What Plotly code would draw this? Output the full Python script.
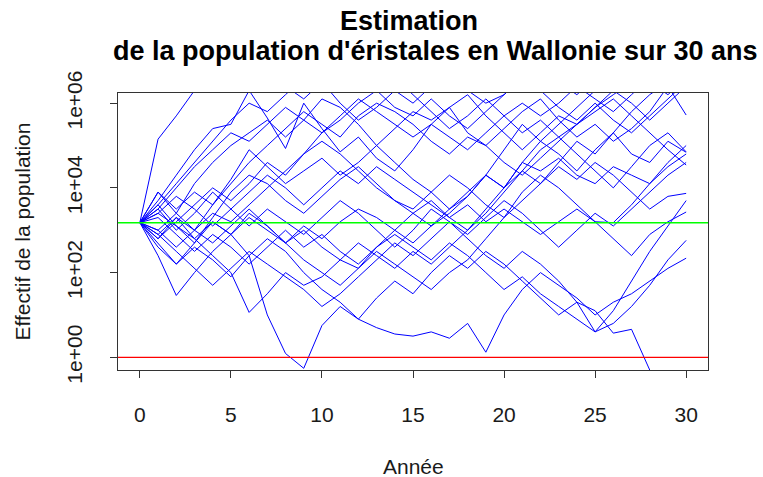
import plotly.graph_objects as go

# Years of the simulation
annees = list(range(0, 31))

# Initial population and extinction threshold
effectif_initial = 1500
seuil_extinction = 1

# Simulated trajectories, stored as log10 of the population size for each year
traj_log10 = [
    [3.18, 5.15, 5.7, 6.3, 6.7, 6.5, 6.9, 6.6, 6.4, 6.1, 6.5, 6.0, 5.6, 5.9, 6.3, 6.0, 6.4, 6.7, 6.3, 6.0, 6.2, 6.6, 6.9, 6.5, 6.2, 6.6, 6.8, 6.4, 6.5, 6.2, 6.6],
    [3.18, 3.7, 4.3, 4.9, 5.4, 5.5, 6.3, 5.65, 4.93, 6.0, 5.4, 4.85, 5.2, 4.7, 4.4, 4.9, 5.5, 5.9, 5.3, 5.0, 5.4, 5.8, 6.1, 5.6, 5.2, 5.5, 5.1, 5.4, 5.8, 6.4, 5.72],
    [3.18, 3.9, 3.4, 4.1, 4.6, 5.0, 5.3, 5.6, 5.2, 5.6, 6.1, 5.9, 5.5, 5.0, 4.6, 4.2, 3.9, 3.5, 3.8, 4.3, 4.0, 4.6, 5.1, 4.8, 4.4, 4.9, 5.3, 4.8, 4.6, 5.1, 4.84],
    [3.18, 2.8, 3.3, 3.0, 3.6, 4.2, 4.9, 4.5, 4.1, 4.4, 4.7, 4.3, 4.6, 5.0, 5.4, 5.8, 5.6, 5.9, 6.2, 5.7, 5.3, 4.9, 5.3, 5.7, 5.5, 5.8, 6.1, 5.7, 5.3, 4.9, 4.54],
    [3.18, 2.6, 2.2, 2.7, 3.3, 3.9, 4.3, 4.1, 3.7, 3.4, 3.8, 4.2, 4.5, 4.1, 3.7, 3.5, 3.9, 4.3, 4.0, 3.6, 3.3, 3.7, 4.1, 4.5, 4.2, 4.6, 4.3, 3.9, 3.5, 3.8, 3.87],
    [3.18, 3.6, 3.1, 2.7, 3.2, 2.9, 2.4, 2.8, 2.5, 2.0, 1.6, 1.3, 0.9, 0.7, 0.55, 0.5, 0.6, 0.45, 0.8, 0.12, 1.0, 1.6, 2.0, 1.7, 1.4, 1.0, 1.3, 1.5, 1.8, 2.1, 2.34],
    [3.18, 2.9, 3.3, 2.8, 2.4, 2.0, 1.06, 1.5, 2.0, 1.7, 1.9, 2.3, 2.1, 2.6, 2.9, 2.6, 2.3, 2.7, 2.4, 2.0, 1.6, 1.9, 1.5, 1.2, 0.9, 0.6, 0.8, 1.2, 1.7, 2.3, 2.76],
    [3.18, 2.4, 1.46, 2.0, 2.5, 2.9, 3.4, 3.1, 2.7, 2.3, 2.0, 1.7, 2.1, 2.5, 2.2, 1.9, 1.6, 2.0, 2.3, 2.8, 3.3, 3.9, 4.3, 4.0, 3.6, 3.2, 2.8, 2.4, 2.9, 3.2, 3.43],
    [3.18, 3.4, 3.8, 3.5, 3.1, 3.5, 3.9, 4.3, 4.0, 3.6, 4.0, 4.4, 4.1, 4.5, 4.2, 3.9, 3.6, 3.3, 3.0, 3.4, 3.9, 4.4, 4.9, 5.2, 4.8, 4.4, 4.0, 4.5, 5.0, 5.3, 4.85],
    [3.18, 3.0, 3.4, 3.0, 3.4, 3.2, 3.6, 4.0, 4.4, 4.8, 5.1, 4.8, 4.4, 4.0, 3.7, 3.4, 3.7, 3.3, 3.6, 3.2, 3.5, 3.2, 2.9, 3.2, 3.5, 3.2, 3.18, 3.6, 4.1, 4.5, 4.80],
    [3.18, 3.6, 4.1, 4.6, 5.1, 5.6, 6.0, 5.8, 6.2, 6.6, 6.9, 6.5, 6.8, 7.0, 6.6, 6.2, 5.8, 5.4, 5.7, 6.1, 5.7, 5.3, 5.6, 5.2, 5.5, 5.9, 6.3, 6.0, 5.6, 6.0, 6.4],
    [3.18, 3.4, 3.1, 2.8, 3.2, 2.9, 3.3, 3.0, 2.7, 3.1, 2.8, 3.2, 3.5, 3.3, 3.0, 3.4, 3.1, 3.4, 3.8, 4.3, 4.9, 5.5, 5.1, 5.5, 5.9, 6.3, 6.7, 6.4, 6.8, 7.1, 7.4],
    [3.18, 2.7, 2.2, 2.6, 2.3, 1.9, 2.4, 1.0, 0.09, -0.26, 0.75, 1.2, 0.9, 1.4, 1.8, 1.5, 2.0, 2.4, 2.1, 2.5, 2.2, 1.8, 1.4, 1.0, 1.3, 1.1, 0.57, 0.66, -0.3, -0.9, -1.5],
    [3.18, 3.5, 3.0, 3.4, 3.9, 3.5, 3.1, 3.5, 3.2, 2.9, 3.3, 3.7, 3.4, 3.0, 2.6, 3.0, 3.5, 3.2, 2.8, 2.4, 2.1, 2.5, 2.2, 1.8, 1.3, 0.6, 1.1, 1.8, 2.5, 3.1, 3.7],
    [3.18, 3.9, 3.5, 3.9, 3.6, 4.1, 4.6, 5.0, 5.4, 5.8, 5.5, 5.2, 5.7, 6.0, 5.8, 5.5, 5.1, 4.8, 5.2, 5.0, 4.6, 4.3, 4.7, 5.1, 5.5, 5.9, 6.2, 6.5, 6.8, 6.4, 6.9],
    [3.18, 2.8, 3.2, 3.6, 4.0, 3.7, 4.1, 4.6, 4.3, 4.8, 5.3, 5.6, 6.0, 6.3, 5.9, 5.7, 6.1, 5.7, 5.4, 5.8, 6.2, 6.6, 6.3, 5.9, 5.6, 6.0, 5.6, 5.3, 5.7, 6.1, 6.5],
    [3.18, 3.3, 2.9, 2.5, 2.9, 2.6, 2.2, 2.6, 3.0, 2.6, 2.9, 2.5, 2.2, 2.6, 3.0, 2.7, 3.1, 3.5, 3.9, 4.3, 4.0, 4.4, 4.1, 4.6, 5.1, 4.8, 5.3, 5.8, 6.2, 6.5, 6.9],
    [3.18, 3.0, 2.6, 3.0, 2.7, 3.1, 3.5, 3.1, 2.7, 3.0, 2.6, 2.3, 2.7, 2.4, 2.1, 2.5, 2.2, 2.6, 3.0, 3.5, 4.0, 4.6, 4.4, 4.7, 4.3, 4.1, 4.5, 4.3, 4.1, 4.6, 5.0],
    [3.18, 2.9, 2.5, 2.1, 1.7, 2.1, 2.5, 2.2, 1.9, 1.6, 1.2, 1.5, 1.9, 2.3, 2.7, 2.4, 2.8, 3.2, 2.9, 3.3, 3.7, 3.4, 3.0, 2.6, 3.0, 3.4, 3.1, 3.5, 3.9, 4.3, 4.6],
    [3.18, 3.5, 4.0, 4.5, 4.9, 5.3, 5.1, 5.5, 5.9, 5.6, 5.3, 5.7, 6.1, 5.8, 5.5, 5.2, 5.5, 5.2, 4.9, 5.3, 5.7, 6.0, 5.7, 6.0, 6.4, 6.1, 5.8, 6.2, 6.6, 6.3, 6.7],
]

# Axis ticks
x_ticks = [0, 5, 10, 15, 20, 25, 30]
y_ticks = [1, 1e2, 1e4, 1e6]
y_ticktext = ["1e+00", "1e+02", "1e+04", "1e+06"]

police = "Liberation Sans, Arial, sans-serif"

fig = go.Figure()

for traj in traj_log10:
    fig.add_trace(go.Scatter(
        x=annees, y=[10 ** v for v in traj], mode="lines",
        line=dict(color="#0000FF", width=1), hoverinfo="skip", showlegend=False,
    ))

# Reference levels: initial size (green) and extinction (red)
for niveau, couleur in [(effectif_initial, "#00FF00"), (seuil_extinction, "#FF0000")]:
    fig.add_trace(go.Scatter(
        x=[-5, 35], y=[niveau, niveau], mode="lines",
        line=dict(color=couleur, width=1.3), hoverinfo="skip", showlegend=False,
    ))

fig.update_layout(
    width=763, height=477,
    margin=dict(l=118, r=55, t=93, b=107),
    paper_bgcolor="white", plot_bgcolor="white",
    font=dict(family=police, size=21, color="#1a1a1a"),
    showlegend=False,
)

fig.update_xaxes(
    range=[-1.2, 31.2], tickmode="array", tickvals=x_ticks,
    ticks="outside", ticklen=7, tickcolor="#333", tickwidth=1,
    showline=True, mirror=True, linecolor="#333", linewidth=1,
    showgrid=False, zeroline=False, ticklabelstandoff=19,
    tickfont=dict(size=21),
)
fig.update_yaxes(
    type="log", range=[-0.3, 6.24], tickmode="array",
    tickvals=y_ticks, ticktext=y_ticktext, tickangle=-90,
    ticks="outside", ticklen=7, tickcolor="#333", tickwidth=1,
    showline=True, mirror=True, linecolor="#333", linewidth=1,
    showgrid=False, zeroline=False, ticklabelstandoff=20,
    tickfont=dict(size=21),
)

# Titles
fig.add_annotation(text="<b>Estimation</b>", xref="paper", yref="paper",
                   x=(409 - 118) / 590, y=1, yshift=72, showarrow=False,
                   xanchor="center", yanchor="middle",
                   font=dict(size=27, color="black", family=police))
fig.add_annotation(text="<b>de la population d'éristales en Wallonie sur 30 ans</b>",
                   xref="paper", yref="paper",
                   x=(435 - 118) / 590, y=1, yshift=42, showarrow=False,
                   xanchor="center", yanchor="middle",
                   font=dict(size=27, color="black", family=police))
fig.add_annotation(text="Année", xref="paper", yref="paper", x=0.5, y=0,
                   yshift=-96, showarrow=False, xanchor="center", yanchor="middle",
                   font=dict(size=21, color="#1a1a1a", family=police))
fig.add_annotation(text="Effectif de la population", xref="paper", yref="paper",
                   x=0, y=0.5, xshift=-96, textangle=-90, showarrow=False,
                   xanchor="center", yanchor="middle",
                   font=dict(size=21, color="#1a1a1a", family=police))

fig.write_html("out.html")
